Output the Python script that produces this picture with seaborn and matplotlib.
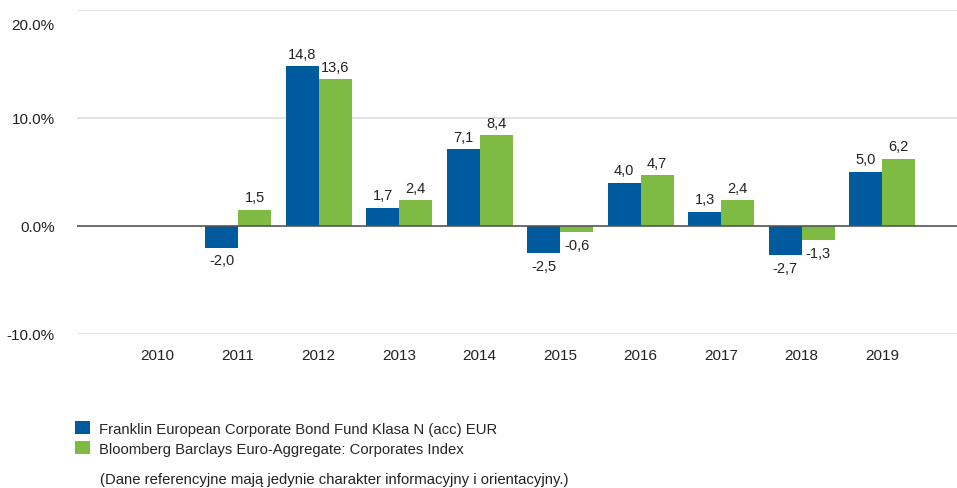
#!/usr/bin/env python
# coding: utf-8

import pandas as pd
import numpy as np
import matplotlib
matplotlib.use("Agg")
import matplotlib.pyplot as plt
import matplotlib.transforms as mtransforms
import seaborn as sns

# Data
years = ["2010", "2011", "2012", "2013", "2014", "2015", "2016", "2017", "2018", "2019"]
fund_name = "Franklin European Corporate Bond Fund Klasa N (acc) EUR"
index_name = "Bloomberg Barclays Euro-Aggregate: Corporates Index"
fund_values = [np.nan, -2.0, 14.8, 1.7, 7.1, -2.5, 4.0, 1.3, -2.7, 5.0]
index_values = [np.nan, 1.5, 13.6, 2.4, 8.4, -0.6, 4.7, 2.4, -1.3, 6.2]
y_ticks = [-10, 0, 10, 20]
footnote = "(Dane referencyjne mają jedynie charakter informacyjny i orientacyjny.)"

BLUE = "#005A9E"
GREEN = "#7DBB42"


def build_frame():
    fund = pd.DataFrame({"Rok": years, "Seria": fund_name, "Wartość": fund_values})
    index = pd.DataFrame({"Rok": years, "Seria": index_name, "Wartość": index_values})
    return pd.concat([fund, index], ignore_index=True)


def main():
    sns.set_style("white")
    plt.rcParams["font.family"] = ["Liberation Sans", "DejaVu Sans"]

    data = build_frame()

    fig = plt.figure(figsize=(9.57, 4.89), dpi=100)
    ax = fig.add_axes([0.0805, 0.315, 0.9195, 0.6625])

    sns.barplot(data=data, x="Rok", y="Wartość", hue="Seria", order=years,
                hue_order=[fund_name, index_name], palette=[BLUE, GREEN],
                width=0.82, saturation=1, errorbar=None, linewidth=0,
                ax=ax, legend=True)

    # gridlines and zero line
    for t in y_ticks:
        if t == 0:
            ax.axhline(t, color="#555555", lw=1.2, zorder=3)
        else:
            ax.axhline(t, color="#dddddd", lw=1.2, zorder=0)

    ax.set_ylim(-10, 20)
    ax.set_xlim(-1.0, 9.93)
    ax.set_yticks(y_ticks)
    ax.set_yticklabels([f"{t:.1f}%" for t in y_ticks])
    ax.tick_params(axis="y", length=0, pad=16, labelsize=11, labelcolor="#222222")
    ax.tick_params(axis="x", length=0, pad=10, labelsize=11, labelcolor="#222222")
    ax.set_xlabel("")
    ax.set_ylabel("")
    for s in ax.spines.values():
        s.set_visible(False)

    # top label sits a little below its gridline, as in the original
    top_label = ax.get_yticklabels()[-1]
    top_label.set_transform(top_label.get_transform() +
                            mtransforms.ScaledTranslation(0, -0.13, fig.dpi_scale_trans))

    for container in ax.containers:
        ax.bar_label(container, fmt=lambda v: "" if np.isnan(v) else f"{v:.1f}".replace(".", ","),
                     padding=4, fontsize=10.5, color="#222222")

    handles, labels = ax.get_legend_handles_labels()
    ax.get_legend().remove()
    fig.legend(handles, labels, loc="upper left", bbox_to_anchor=(0.078, 0.137),
               frameon=False, fontsize=10.7, handlelength=1.0, handleheight=1.0,
               handletextpad=0.67, labelspacing=0.35, borderaxespad=0, borderpad=0)

    fig.text(100 / 957, 1 - 480 / 489, footnote, fontsize=10.7, color="#222222",
             va="center", ha="left")

    fig.savefig("out.png", dpi=100)


if __name__ == "__main__":
    main()
